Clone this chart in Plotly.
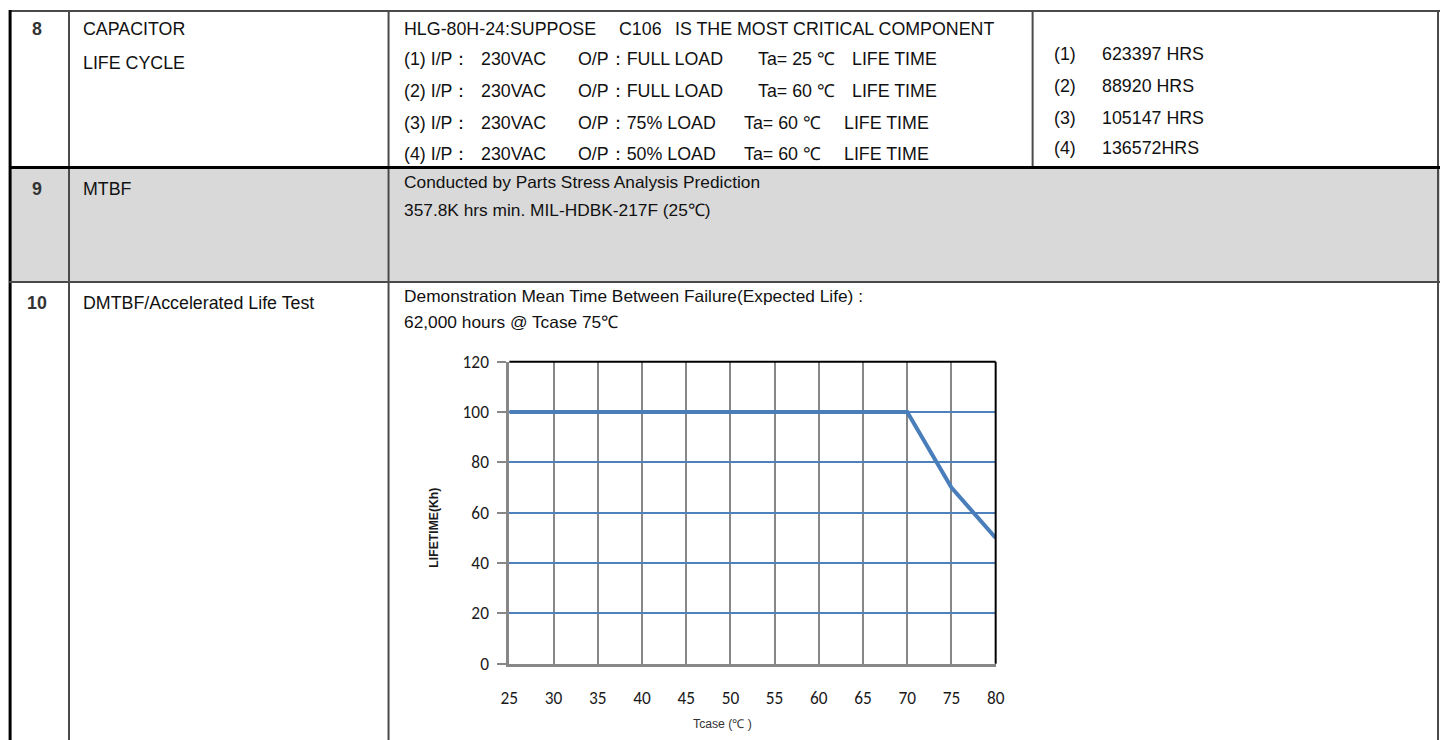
import plotly.graph_objects as go

W, H = 1447, 740
# measured placement of the figure in the captured page (offset + scale),
# used only to convert target pixel positions into paper coordinates
SX0, SXK = 7.9, 0.989
SY0, SYK = 9.0, 0.975

# ---------------- data ----------------
row_numbers = ["8", "9", "10"]
item_row8 = ["CAPACITOR", "LIFE CYCLE"]
item_row9 = "MTBF"
item_row10 = "DMTBF/Accelerated Life Test"

cap_header = ["HLG-80H-24:SUPPOSE", "C106", "IS THE MOST CRITICAL COMPONENT"]
cond_index = ["(1) I/P：", "(2) I/P：", "(3) I/P：", "(4) I/P："]
cond_vin = ["230VAC", "230VAC", "230VAC", "230VAC"]
cond_load = ["O/P：FULL LOAD", "O/P：FULL LOAD", "O/P：75% LOAD", "O/P：50% LOAD"]
cond_ta = ["Ta= 25 ℃", "Ta= 60 ℃", "Ta= 60 ℃", "Ta= 60 ℃"]
cond_tail = ["LIFE TIME", "LIFE TIME", "LIFE TIME", "LIFE TIME"]
life_labels = ["(1)", "(2)", "(3)", "(4)"]
life_hours = ["623397 HRS", "88920 HRS", "105147 HRS", "136572HRS"]

mtbf_lines = ["Conducted by Parts Stress Analysis Prediction",
              "357.8K hrs min. MIL-HDBK-217F (25℃)"]
dmtbf_lines = ["Demonstration Mean Time Between Failure(Expected Life) :",
               "62,000 hours @ Tcase 75℃"]

tcase = [25, 30, 35, 40, 45, 50, 55, 60, 65, 70, 75, 80]
lifetime_kh = [100, 100, 100, 100, 100, 100, 100, 100, 100, 100, 70, 50]
y_ticks = [0, 20, 40, 60, 80, 100, 120]
x_title = "Tcase (℃ )"
y_title = "LIFETIME(Kh)"

# ---------------- helpers ----------------
TABLE_FONT = "Liberation Sans, Arial, sans-serif"
FS = 1 / 0.982          # font size compensation for the capture scale
TS = 17.5 * FS
CHART_FONT = "Carlito, Calibri, Lato, sans-serif"


def px(x):
    return ((x - SX0) / SXK) / W


def py(y):
    return 1 - ((y - SY0) / SYK) / H


fig = go.Figure()


def note(x, y, text, size=TS, bold=False, color="#111111", family=TABLE_FONT,
         xanchor="left", angle=0):
    fig.add_annotation(
        x=px(x), y=py(y), xref="paper", yref="paper", text=text,
        showarrow=False, xanchor=xanchor, yanchor="middle", textangle=angle,
        borderpad=0, borderwidth=0,
        font=dict(family=family, size=size, color=color,
                  weight="bold" if bold else "normal"))


def line(x0, y0, x1, y1, color, width):
    fig.add_shape(type="line", xref="paper", yref="paper",
                  x0=px(x0), y0=py(y0), x1=px(x1), y1=py(y1),
                  line=dict(color=color, width=width), layer="above")


# ---------------- table background ----------------
fig.add_shape(type="rect", xref="paper", yref="paper",
              x0=px(8), x1=px(1441), y0=py(167), y1=py(282),
              fillcolor="#D9D9D9", line=dict(width=0), layer="below")

# ---------------- chart ----------------
fig.add_trace(go.Scatter(x=tcase, y=lifetime_kh, mode="lines",
                         line=dict(color="#4A7EBB", width=4),
                         showlegend=False, hoverinfo="x+y"))

fig.update_layout(
    width=W, height=H, autosize=False,
    margin=dict(l=0, r=0, t=0, b=0),
    paper_bgcolor="white", plot_bgcolor="white",
    xaxis=dict(domain=[px(509), px(996)], range=[25, 80],
               tickvals=tcase, ticktext=[str(v) for v in tcase],
               showgrid=True, gridcolor="#878787", gridwidth=2,
               showline=True, linecolor="#878787", linewidth=3,
               ticks="", zeroline=False, ticklabelstandoff=16,
               tickfont=dict(family=CHART_FONT, size=17 * FS, color="#1a1a1a")),
    yaxis=dict(domain=[py(665), py(362)], range=[0, 120],
               tickvals=y_ticks, ticktext=[str(v) for v in y_ticks],
               showgrid=True, gridcolor="#4F81BD", gridwidth=2,
               showline=True, linecolor="#878787", linewidth=3,
               ticks="outside", ticklen=9, tickwidth=2, tickcolor="#878787",
               zeroline=False, ticklabelstandoff=5,
               tickfont=dict(family=CHART_FONT, size=17 * FS, color="#1a1a1a")),
)

# top and right plot border (black)
fig.add_shape(type="line", xref="x domain", yref="y domain", x0=0, x1=1, y0=1, y1=1,
              line=dict(color="black", width=2), layer="above")
fig.add_shape(type="line", xref="x domain", yref="y domain", x0=1, x1=1, y0=0, y1=1,
              line=dict(color="black", width=2), layer="above")

# axis titles
note(434, 528, y_title, size=12 * FS, bold=True, color="#1a1a1a", xanchor="center", angle=-90)
note(722, 725, x_title, size=12 * FS, color="#333333", xanchor="center")

# ---------------- table lines ----------------
line(8, 10, 1441, 10, "#4a4a4a", 2)         # top border
line(9, 9, 9, 745, "#000000", 3)            # left border
line(1439, 9, 1439, 745, "#4a4a4a", 2)      # right border
line(68, 9, 68, 745, "#4a4a4a", 2)          # col divider 1
line(388, 9, 388, 745, "#4a4a4a", 2)        # col divider 2
line(1033, 9, 1033, 167, "#4a4a4a", 2)      # col divider 3 (row 8 only)
line(8, 167, 1441, 167, "#000000", 3)       # row 8/9
line(8, 282, 1441, 282, "#4a4a4a", 2)       # row 9/10

# ---------------- table text ----------------
num_y = [28, 189, 303]
for n, y in zip(row_numbers, num_y):
    note(36, y, n, bold=True, color="#333333", xanchor="center")

note(82, 28, item_row8[0])
note(82, 62, item_row8[1])
note(82, 189, item_row9)
note(82, 303, item_row10)

# row 8 middle column
for t, x in zip(cap_header, [403, 619, 675]):
    note(x, 28, t)
cond_y = [58, 90, 122, 153]
ta_x = [758, 758, 744, 744]
tail_x = [852, 852, 844, 844]
for i in range(4):
    y = cond_y[i]
    note(403, y, cond_index[i])
    note(481, y, cond_vin[i])
    note(578, y, cond_load[i])
    note(ta_x[i], y, cond_ta[i])
    note(tail_x[i], y, cond_tail[i])

# row 8 right column
life_y = [53, 85, 117, 147]
for lab, hrs, y in zip(life_labels, life_hours, life_y):
    note(1054, y, lab)
    note(1102, y, hrs)

# row 9
for t, y in zip(mtbf_lines, [182, 210]):
    note(403, y, t, size=TS - 0.5)

# row 10
for t, y in zip(dmtbf_lines, [296, 322]):
    note(403, y, t, size=TS - 0.5)

fig.write_html("out.html", config={"displayModeBar": False},
               post_script="document.body.style.margin='0';")
